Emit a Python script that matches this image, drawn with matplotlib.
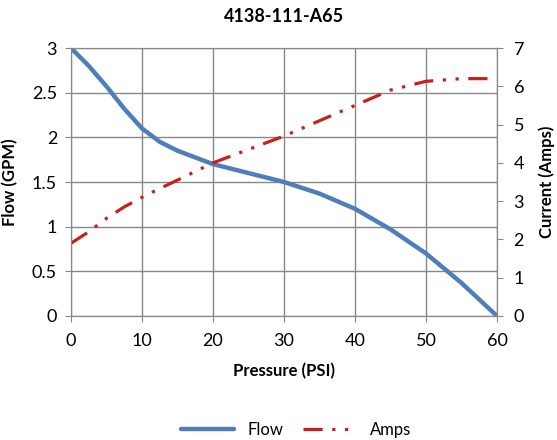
import matplotlib.pyplot as plt

plt.rcParams['font.family'] = ['Lato', 'DejaVu Sans']

# values
pressure = [0, 2.5, 5, 7.5, 10, 12.5, 15, 20, 25, 30, 35, 40, 45, 50, 55, 60]
flow = [3.0, 2.8, 2.57, 2.32, 2.1, 1.95, 1.85, 1.7, 1.6, 1.5, 1.37, 1.2, 0.97, 0.7, 0.37, 0.0]
amps = [1.9, 2.2, 2.55, 2.85, 3.1, 3.33, 3.55, 4.0, 4.35, 4.7, 5.1, 5.5, 5.9, 6.13, 6.2, 6.2]

fig = plt.figure(figsize=(5.57, 4.4), dpi=100)
ax = fig.add_axes([71/557, 1-316/440, 426/557, 268/440])
ax2 = ax.twinx()

l1, = ax.plot(pressure, flow, color='#4F7FBA', lw=3.2, solid_capstyle='round', label='Flow')
l2, = ax2.plot(pressure, amps, color='#C81E1E', lw=2.3, dashes=(6, 3, 1, 3, 1, 3), label='Amps')

ax.set_xlim(0, 60)
ax.set_ylim(0, 3)
ax2.set_ylim(0, 7)
ax.set_xticks(range(0, 61, 10))
ax.set_yticks([0, 0.5, 1, 1.5, 2, 2.5, 3])
ax.set_yticklabels(['0', '0.5', '1', '1.5', '2', '2.5', '3'])
ax2.set_yticks(range(0, 8))

ax.grid(True, color='#888888', lw=1)
ax.set_axisbelow(True)
for a in (ax, ax2):
    for s in a.spines.values():
        s.set_color('#888888')
    a.tick_params(colors='#888888', labelcolor='black', labelsize=13, length=4)
ax.tick_params(axis='x', pad=8)
ax.tick_params(axis='y', pad=6)
ax2.tick_params(axis='y', pad=8)

ax.set_xlabel('Pressure (PSI)', fontsize=12, fontweight='bold', labelpad=10)
ax.set_ylabel('Flow (GPM)', fontsize=12, fontweight='bold', labelpad=10)
ax2.set_ylabel('Current (Amps)', fontsize=12, fontweight='bold', labelpad=10)
ax.set_title('4138-111-A65', fontsize=13, fontweight='bold', pad=19)

leg = fig.legend(handles=[l1, l2], loc='center', ncol=2,
                 frameon=False, fontsize=12, handlelength=3.2, columnspacing=1.2)
leg.set_bbox_to_anchor((296/557, 1-430/440), transform=fig.transFigure)

fig.savefig('out.png', dpi=100)
